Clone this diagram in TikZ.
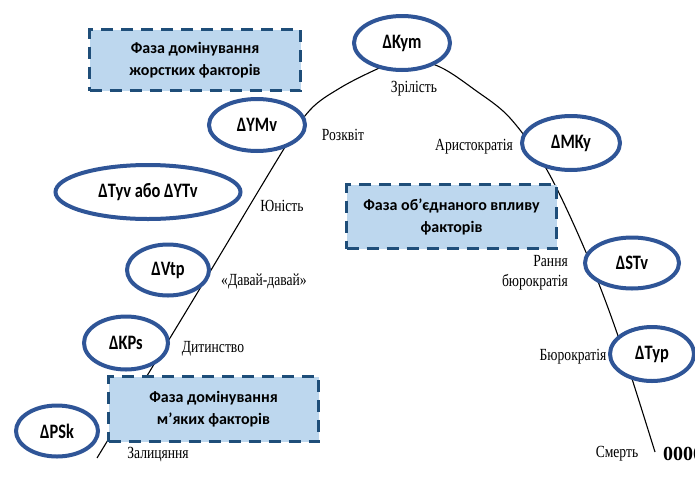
\documentclass[tikz,border=0pt]{standalone}
\usepackage{fontspec}
\setmainfont{Liberation Serif}
\newfontfamily\ovalfont[FakeStretch=0.8]{Carlito}
\newfontfamily\phasefont{Carlito}
\newfontfamily\stagefont[FakeStretch=0.8]{Liberation Serif}
\usetikzlibrary{shapes.geometric}
\definecolor{ovalblue}{HTML}{2F5597}
\definecolor{phaseline}{HTML}{1F4E79}
\definecolor{phasefill}{HTML}{BDD7EE}
\begin{document}
\begin{tikzpicture}[x=1pt,y=-1pt,
  oval/.style={ellipse, draw=ovalblue, line width=4pt, fill=white, inner sep=0pt,
    font=\ovalfont\bfseries\fontsize{20.5}{24}\selectfont},
  phase/.style={rectangle, draw=phaseline, fill=phasefill, line width=3pt,
    dash pattern=on 12pt off 8pt, align=center, inner sep=0pt,
    font=\phasefont\bfseries\fontsize{16}{22}\selectfont},
  stage/.style={inner sep=0pt, font=\stagefont\fontsize{17}{20}\selectfont},
  lifecurve/.style={line width=1.1pt, black}]
\useasboundingbox (0,0) rectangle (695,477);

% life-cycle curve
\draw[lifecurve] plot[smooth, tension=0.55] coordinates {
  (97,458) (190,305) (282,152) (310,110) (340,88) (375,70) (405,58)
  (440,67) (475,90) (510,118) (547,170) (585,250) (617,333) (655,452)};

% phase boxes
\node[phase, minimum width=211pt, minimum height=61pt] (hard) at (195,60)
  {Фаза домінування\\жорстких факторів};
\node[phase, minimum width=210pt, minimum height=64pt] (joint) at (451.5,216.5)
  {Фаза об’єднаного впливу\\факторів};
\node[phase, minimum width=210pt, minimum height=65pt] (soft) at (213.5,409)
  {Фаза домінування\\м’яких факторів};

% stage ovals
\node[oval, minimum width=96pt, minimum height=54pt] (kym) at (402,43) {ΔKym};
\node[oval, minimum width=96pt, minimum height=52pt] (ymv) at (257,125) {ΔYMv};
\node[oval, minimum width=98pt, minimum height=54pt] (mky) at (571,143) {ΔMKy};
\node[oval, minimum width=185pt, minimum height=54pt] (tyv) at (148,192) {ΔTyv або ΔYTv};
\node[oval, minimum width=82pt, minimum height=51pt] (vtp) at (168,270) {ΔVtp};
\node[oval, minimum width=94pt, minimum height=51pt] (stv) at (632,263) {ΔSTv};
\node[oval, minimum width=84pt, minimum height=53pt] (kps) at (126,343) {ΔKPs};
\node[oval, minimum width=82pt, minimum height=51pt] (psk) at (57,431) {ΔPSk};
\node[oval, minimum width=84pt, minimum height=54pt] (typ) at (652,354) {ΔTyp};

% stage names
\node[stage] (zril) at (414,89) {Зрілість};
\node[stage] (rozk) at (343,135) {Розквіт};
\node[stage] (arys) at (474,147) {Аристократія};
\node[stage] (yun) at (282,206) {Юність};
\node[stage] (davai) at (264,281) {«Давай-давай»};
\node[stage, align=right, anchor=east] (early) at (568,273) {Рання\\бюрократія};
\node[stage] (dyt) at (213,349) {Дитинство};
\node[stage] (zal) at (158,455) {Залицяння};
\node[stage] (bur) at (573,357) {Бюрократія};
\node[stage] (smert) at (617,454) {Смерть};
\node[stage, anchor=west, font=\bfseries\fontsize{20}{22}\selectfont] (zero) at (663,454) {0000};
\end{tikzpicture}
\end{document}
